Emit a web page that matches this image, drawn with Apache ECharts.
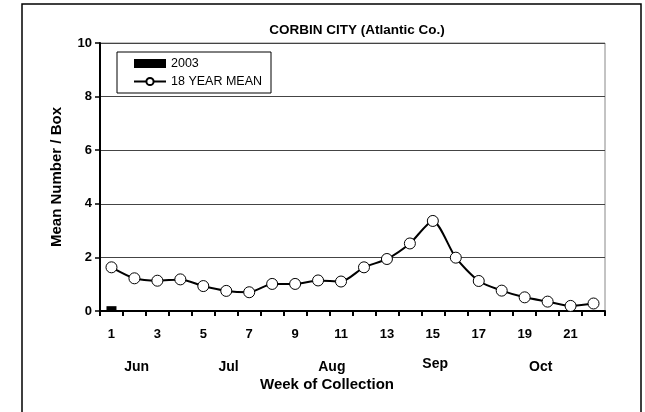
<!DOCTYPE html>
<html>
<head>
<meta charset="utf-8">
<script src="https://cdn.jsdelivr.net/npm/echarts@6/dist/echarts.min.js"></script>
<style>
html,body{margin:0;padding:0;background:#fff;}
#c{width:645px;height:412px;}
</style>
</head>
<body>
<div id="c"></div>
<script>
var weeks = ['1','2','3','4','5','6','7','8','9','10','11','12','13','14','15','16','17','18','19','20','21','22'];
var year2003 = [0.18,0,0,0,0,0,0,0,0,0,0,0,0,0,0,0,0,0,0,0,0,0];
var mean18 = [1.63,1.22,1.13,1.18,0.93,0.75,0.70,1.01,1.01,1.14,1.10,1.63,1.94,2.52,3.36,1.99,1.12,0.76,0.51,0.35,0.19,0.28];
var yTicks = [0,2,4,6,8,10];
var months = ['Jun','Jul','Aug','Sep','Oct'];
var monthPos = [1.6, 5.6, 10.1, 14.6, 19.2]; // in week-category units from left edge
var monthDy = [0, 0, 0, -3, 0];
var xTitle = 'Week of Collection';

var FONT = 'Liberation Sans, Arial, sans-serif';
var chart = echarts.init(document.getElementById('c'), null, {renderer:'canvas'});
var option = {
  backgroundColor:'#fff',
  animation:false,
  title:{
    text:'CORBIN CITY (Atlantic Co.)',
    left:352, top:18, textAlign:'center',
    textStyle:{fontFamily:FONT, fontSize:13.5, fontWeight:'bold', color:'#000'}
  },
  legend:{
    orient:'vertical', left:117, top:52,
    padding:[5,9,5,16], itemGap:5,
    itemWidth:32, itemHeight:9,
    borderColor:'#000', borderWidth:1,
    textStyle:{fontFamily:FONT, fontSize:12.5, color:'#000'},
    data:[{name:'2003', icon:'rect'}, {name:'18 YEAR MEAN'}]
  },
  grid:{left:100, right:40, top:43, bottom:101, show:true, borderColor:'#888', borderWidth:1, containLabel:false},
  xAxis:{
    type:'category', data:weeks, boundaryGap:true,
    axisLine:{lineStyle:{color:'#000', width:2}},
    axisTick:{show:true, inside:false, length:5, lineStyle:{color:'#000', width:2}, interval:0},
    axisLabel:{interval:1, margin:17, fontFamily:FONT, fontSize:13, fontWeight:'bold', color:'#000'},
    splitLine:{show:false}
  },
  yAxis:{
    type:'value', min:0, max:10, interval:2,
    axisLine:{show:true, lineStyle:{color:'#000', width:2}},
    axisTick:{show:true, inside:false, length:5, lineStyle:{color:'#000', width:1.5}},
    axisLabel:{margin:8, fontFamily:FONT, fontSize:13, fontWeight:'bold', color:'#000',
      formatter:function(v){return yTicks.indexOf(v)>=0?String(v):'';}},
    splitLine:{show:true, lineStyle:{color:'#444', width:1}},
    name:'Mean Number / Box', nameLocation:'middle', nameGap:36, nameRotate:90,
    nameTextStyle:{fontFamily:FONT, fontSize:15, fontWeight:'bold', color:'#000'}
  },
  series:[
    {name:'2003', type:'bar', data:year2003, barWidth:10, itemStyle:{color:'#000'}},
    {name:'18 YEAR MEAN', type:'line', data:mean18, smooth:0.25,
      symbol:'circle', symbolSize:11,
      lineStyle:{color:'#000', width:2},
      itemStyle:{color:'#fff', borderColor:'#000', borderWidth:1}}
  ],
  graphic:[
    {type:'rect', shape:{x:22, y:4, width:619, height:420}, style:{fill:'none', stroke:'#000', lineWidth:1.5}, silent:true, z:-1},
    {type:'text', x:327, y:385, style:{text:xTitle, fontFamily:FONT, fontSize:15, fontWeight:'bold', fill:'#000', align:'center', verticalAlign:'middle'}}
  ]
};
chart.setOption(option);
var g = option.graphic.slice();
for (var i=0;i<months.length;i++){
  var x0 = chart.convertToPixel({xAxisIndex:0}, 0);
  var x1 = chart.convertToPixel({xAxisIndex:0}, 1);
  var step = x1 - x0;
  var left = x0 - step/2;
  g.push({type:'text', x:left + monthPos[i]*step, y:367 + monthDy[i],
    style:{text:months[i], fontFamily:FONT, fontSize:14, fontWeight:'bold', fill:'#000', align:'center', verticalAlign:'middle'}});
}
chart.setOption({graphic:g});
</script>
</body>
</html>
